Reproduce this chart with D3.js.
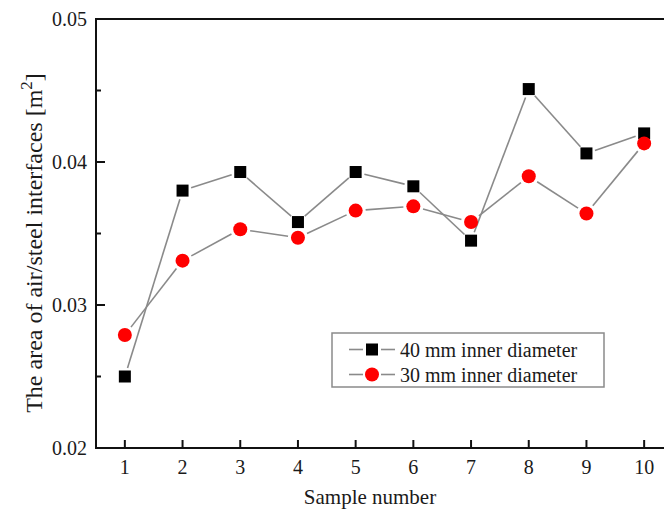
<!DOCTYPE html>
<html>
<head>
<meta charset="utf-8">
<script src="https://cdn.jsdelivr.net/npm/d3@7/dist/d3.min.js"></script>
<style>
  html, body { margin: 0; padding: 0; background: #fff; }
  svg { display: block; }
  text { font-family: "Liberation Serif", "Times New Roman", serif; fill: #1a1a1a; }
</style>
</head>
<body>
<svg id="chart" width="664" height="511"></svg>
<script>
const samples = [1, 2, 3, 4, 5, 6, 7, 8, 9, 10];
const series40 = [0.0250, 0.0380, 0.0393, 0.0358, 0.0393, 0.0383, 0.0345, 0.0451, 0.0406, 0.0420];
const series30 = [0.0279, 0.0331, 0.0353, 0.0347, 0.0366, 0.0369, 0.0358, 0.0390, 0.0364, 0.0413];
const seriesNames = ["40 mm inner diameter", "30 mm inner diameter"];
const yTicks = [0.02, 0.03, 0.04, 0.05];
const yMinorTicks = [0.025, 0.035, 0.045];
const yTickLabels = ["0.02", "0.03", "0.04", "0.05"];

(function () {
const svg = d3.select("#chart");
const W = 664, H = 511;
svg.append("rect").attr("width", W).attr("height", H).attr("fill", "#fff");

const pL = 96, pR = 673, pT = 19, pB = 448;
const x = d3.scaleLinear().domain([0.5, 10.5]).range([pL, pR]);
const y = d3.scaleLinear().domain([0.02, 0.05]).range([pB, pT]);

const lineColor = "#8a8a8a";

function drawSeries(vals, gap) {
  const pts = samples.map((s, i) => [x(s), y(vals[i])]);
  const g = svg.append("g");
  for (let i = 0; i < pts.length - 1; i++) {
    const [x0, y0] = pts[i], [x1, y1] = pts[i + 1];
    const dx = x1 - x0, dy = y1 - y0, len = Math.hypot(dx, dy);
    if (len <= 2 * gap) continue;
    const ux = dx / len, uy = dy / len;
    g.append("line")
      .attr("x1", x0 + ux * gap).attr("y1", y0 + uy * gap)
      .attr("x2", x1 - ux * gap).attr("y2", y1 - uy * gap)
      .attr("stroke", lineColor).attr("stroke-width", 1.6);
  }
}

drawSeries(series40, 9);
drawSeries(series30, 10);

svg.append("g").selectAll("rect").data(samples).join("rect")
  .attr("x", d => x(d) - 6).attr("y", (d, i) => y(series40[i]) - 6)
  .attr("width", 12).attr("height", 12).attr("fill", "#000");
svg.append("g").selectAll("circle").data(samples).join("circle")
  .attr("cx", d => x(d)).attr("cy", (d, i) => y(series30[i]))
  .attr("r", 7).attr("fill", "#ff0000");

svg.append("rect").attr("x", pL).attr("y", pT)
  .attr("width", pR - pL).attr("height", pB - pT)
  .attr("fill", "none").attr("stroke", "#111").attr("stroke-width", 2);

const xt = svg.append("g");
samples.forEach(s => {
  xt.append("line").attr("x1", x(s)).attr("x2", x(s))
    .attr("y1", pB).attr("y2", pB - 8)
    .attr("stroke", "#111").attr("stroke-width", 2);
  xt.append("text").attr("x", x(s)).attr("y", pB + 26)
    .attr("text-anchor", "middle").attr("font-size", 20).text(s);
});

const yt = svg.append("g");
yTicks.forEach((t, i) => {
  yt.append("line").attr("x1", pL).attr("x2", pL + 9)
    .attr("y1", y(t)).attr("y2", y(t))
    .attr("stroke", "#111").attr("stroke-width", 2);
  yt.append("text").attr("x", pL - 9).attr("y", y(t) + 7)
    .attr("text-anchor", "end").attr("font-size", 20).text(yTickLabels[i]);
});
yMinorTicks.forEach(t => {
  yt.append("line").attr("x1", pL).attr("x2", pL + 5)
    .attr("y1", y(t)).attr("y2", y(t))
    .attr("stroke", "#111").attr("stroke-width", 2);
});

svg.append("text").attr("x", 370).attr("y", 504)
  .attr("text-anchor", "middle").attr("font-size", 21).text("Sample number");

const yTitle = svg.append("text")
  .attr("transform", "translate(42,243) rotate(-90)")
  .attr("text-anchor", "middle").attr("font-size", 24);
yTitle.append("tspan").text("The area of air/steel interfaces [m");
yTitle.append("tspan").attr("dy", -10).attr("font-size", 17).text("2");
yTitle.append("tspan").attr("dy", 10).text("]");

const lg = svg.append("g");
lg.append("rect").attr("x", 332).attr("y", 333).attr("width", 272).attr("height", 54)
  .attr("fill", "#fff").attr("stroke", "#8a8a8a").attr("stroke-width", 1.5);
const legendRows = [
  { name: seriesNames[0], shape: "square", cy: 349.5 },
  { name: seriesNames[1], shape: "circle", cy: 374.5 }
];
legendRows.forEach(r => {
  const cx = 372;
  lg.append("line").attr("x1", 349).attr("x2", cx - 9).attr("y1", r.cy).attr("y2", r.cy)
    .attr("stroke", lineColor).attr("stroke-width", 1.6);
  lg.append("line").attr("x1", cx + 9).attr("x2", 395).attr("y1", r.cy).attr("y2", r.cy)
    .attr("stroke", lineColor).attr("stroke-width", 1.6);
  if (r.shape === "square") {
    lg.append("rect").attr("x", cx - 6).attr("y", r.cy - 6).attr("width", 12).attr("height", 12).attr("fill", "#000");
  } else {
    lg.append("circle").attr("cx", cx).attr("cy", r.cy).attr("r", 7).attr("fill", "#ff0000");
  }
  lg.append("text").attr("x", 400).attr("y", r.cy + 7).attr("font-size", 20).text(r.name);
});
})();
</script>
</body>
</html>
